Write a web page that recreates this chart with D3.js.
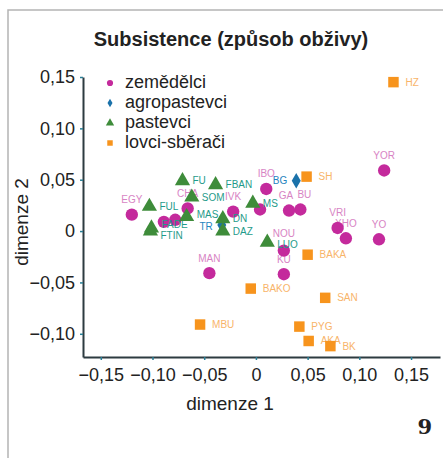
<!DOCTYPE html>
<html>
<head>
<meta charset="utf-8">
<script src="https://cdn.jsdelivr.net/npm/d3@7"></script>
<style>
  body { margin: 0; background: #fff; }
  svg { display: block; font-family: "Liberation Sans", Arial, sans-serif; }
</style>
</head>
<body>
<svg id="canvas" width="443" height="458"></svg>
<script>
// groups in legend order
const groups = ["zemědělci", "agropastevci", "pastevci", "lovci-sběrači"]
const groupColors = ["#c42a9c", "#1b72aa", "#3e8c3a", "#f7941d"]
const labelColors = ["#d884c4", "#1f84c0", "#1f9b8a", "#f8b469"]

// zemědělci (farmers)
const farmNames = ["EGY", "", "", "CHA", "IVK", "IBO", "", "GA", "BU", "YOR", "VRI", "XHO", "YO", "NOU", "KU", "MAN"]
const farmX = [-0.120, -0.089, -0.078, -0.066, -0.022, 0.010, 0.004, 0.032, 0.043, 0.124, 0.079, 0.087, 0.119, 0.027, 0.027, -0.045]
const farmY = [0.016, 0.009, 0.011, 0.022, 0.019, 0.041, 0.021, 0.020, 0.021, 0.059, 0.003, -0.007, -0.008, -0.019, -0.042, -0.041]

// agropastevci
const agroNames = ["BG", "TR"]
const agroX = [0.039, -0.033]
const agroY = [0.049, 0.006]

// pastevci (herders)
const herdNames = ["FU", "FBAN", "SOM", "FUL", "MAS", "FADE", "FTIN", "DN", "DAZ", "MS", "LUO"]
const herdX = [-0.071, -0.039, -0.062, -0.103, -0.067, -0.101, -0.102, -0.032, -0.032, -0.003, 0.011]
const herdY = [0.049, 0.045, 0.033, 0.024, 0.014, 0.003, 0.000, 0.012, 0.000, 0.027, -0.011]

// lovci-sběrači (hunter-gatherers)
const huntNames = ["HZ", "SH", "BAKA", "BAKO", "SAN", "MBU", "PYG", "AKA", "BK"]
const huntX = [0.133, 0.049, 0.050, -0.005, 0.067, -0.054, 0.042, 0.051, 0.072]
const huntY = [0.145, 0.053, -0.023, -0.056, -0.065, -0.091, -0.093, -0.107, -0.112]

const xTicks = [-0.15, -0.10, -0.05, 0, 0.05, 0.10, 0.15]
const yTicks = [-0.10, -0.05, 0, 0.05, 0.10, 0.15]

let svg = d3.select('#canvas')

let x = d3.scaleLinear().domain([-0.1672, 0.178]).range([83, 440])
let y = d3.scaleLinear().domain([-0.1226, 0.15]).range([357, 77])

let fmt = d => d === 0 ? "0" : d3.format(".2f")(d).replace(".", ",")

// frame
svg.append('path')
  .attr('d', 'M8,458 L8,10 L443,10')
  .attr('fill', 'none')
  .attr('stroke', '#b4b4b4')
  .attr('stroke-width', 1.5)

svg.append('text')
  .attr('x', 231).attr('y', 46)
  .attr('text-anchor', 'middle')
  .attr('font-weight', 'bold')
  .attr('font-size', 20)
  .attr('fill', '#222')
  .text('Subsistence (způsob obživy)')

let xAxis = svg.append('g')
  .attr('transform', 'translate(0,357)')
  .call(d3.axisBottom(x).tickValues(xTicks).tickFormat(fmt).tickSize(3).tickPadding(8).tickSizeOuter(0))
let yAxis = svg.append('g')
  .attr('transform', 'translate(83,0)')
  .call(d3.axisLeft(y).tickValues(yTicks).tickFormat(fmt).tickSize(3).tickPadding(5).tickSizeOuter(0))

;[xAxis, yAxis].forEach(a => {
  a.select('.domain').attr('stroke', '#2d3b40').attr('stroke-width', 2)
  a.selectAll('.tick line').attr('stroke', '#2a7f96').attr('stroke-width', 1.5)
  a.selectAll('.tick text').attr('font-size', 18).attr('fill', '#222').attr('font-family', '"Liberation Sans", Arial, sans-serif')
})

svg.append('text')
  .attr('x', 230).attr('y', 410)
  .attr('text-anchor', 'middle')
  .attr('font-size', 19)
  .attr('fill', '#222')
  .text('dimenze 1')

svg.append('text')
  .attr('transform', 'translate(28,222) rotate(-90)')
  .attr('text-anchor', 'middle')
  .attr('font-size', 19)
  .attr('fill', '#222')
  .text('dimenze 2')

svg.append('text')
  .attr('x', 432).attr('y', 434)
  .attr('text-anchor', 'end')
  .attr('font-family', '"DejaVu Serif", "Liberation Serif", serif')
  .attr('font-weight', 'bold')
  .attr('font-size', 21)
  .attr('fill', '#222')
  .text('9')

let symbols = [d3.symbolCircle, d3.symbolDiamond, d3.symbolTriangle, d3.symbolSquare]
let sizes = [120, 70, 100, 110]

let plot = svg.append('g')
let labelFont = '"Liberation Sans Narrow", "Liberation Sans", Arial, sans-serif'

// small nudges where labels sit on top of each other
let nudge = { FADE: -3, FTIN: 4, MAS: -2, TR: 2, NOU: -2, LUO: 2 }
let nudgeX = { GA: -3, BU: 4 }

let drawGroup = (gi, names, xs, ys, labelPos) => {
  let data = names.map((n, i) => ({ name: n, x: xs[i], y: ys[i] }))
  plot.selectAll('.lbl' + gi)
    .data(data.filter(d => d.name))
    .enter()
    .append('text')
    .attr('class', 'lbl' + gi)
    .attr('x', d => x(d.x) + labelPos[0] + (nudgeX[d.name] || 0))
    .attr('y', d => y(d.y) + labelPos[1] + (nudge[d.name] || 0))
    .attr('text-anchor', labelPos[2])
    .attr('dominant-baseline', 'central')
    .attr('font-family', labelFont)
    .attr('font-size', 10)
    .attr('fill', labelColors[gi])
    .text(d => d.name)
  plot.selectAll('.pt' + gi)
    .data(data)
    .enter()
    .append('path')
    .attr('class', 'pt' + gi)
    .attr('d', d3.symbol().type(symbols[gi]).size(sizes[gi]))
    .attr('transform', d => `translate(${x(d.x)},${y(d.y)})`)
    .attr('fill', groupColors[gi])
}

drawGroup(3, huntNames, huntX, huntY, [12, 0, 'start'])
drawGroup(0, farmNames, farmX, farmY, [0, -15, 'middle'])
drawGroup(1, agroNames, agroX, agroY, [-9, 0, 'end'])
drawGroup(2, herdNames, herdX, herdY, [10, 0, 'start'])

// legend
let legend = svg.append('g')
groups.forEach((g, i) => {
  let ly = 82 + i * 20
  legend.append('path')
    .attr('d', d3.symbol().type(symbols[i]).size(i === 1 ? 22 : 30)())
    .attr('transform', `translate(110,${ly + 1})`)
    .attr('fill', groupColors[i])
  legend.append('text')
    .attr('x', 125).attr('y', ly)
    .attr('dominant-baseline', 'central')
    .attr('font-size', 18)
    .attr('fill', '#222')
    .text(g)
})
</script>
</body>
</html>
